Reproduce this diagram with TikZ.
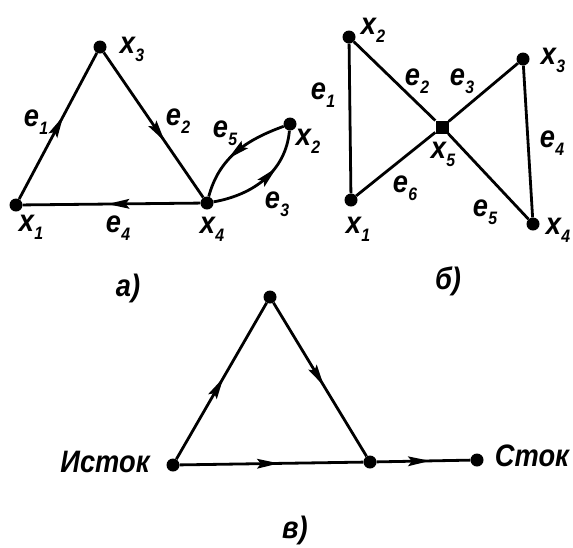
\documentclass[tikz,border=0pt]{standalone}
\usepackage{fontspec}
\setmainfont{Liberation Sans}[FakeStretch=0.88]
\usetikzlibrary{decorations.markings}
\newcommand\lb[2]{#1\kern0.3pt\raisebox{-0.5ex}{\fontsize{18}{18}\selectfont #2}}
\begin{document}
\begin{tikzpicture}[x=1pt,y=-1pt,
  edge/.style={line width=2.8pt},
  dot/.style={circle,fill,inner sep=0pt,minimum size=13pt},
  sq/.style={rectangle,fill,inner sep=0pt,minimum size=13pt},
  lab/.style={inner sep=0pt,font=\fontsize{31}{31}\selectfont\bfseries\itshape},
  midarrow/.style={postaction={decorate,decoration={markings,
      mark=at position #1 with {\fill (11pt,0pt) -- (-11pt,5pt) -- (-7pt,0pt) -- (-11pt,-5pt) -- cycle;}}}}
]
\useasboundingbox (0,0) rectangle (573,547);
% ---------- a)
\node[dot] (a1) at (16,205) {};
\node[dot] (a3) at (100,47) {};
\node[dot] (a4) at (207,203) {};
\node[dot] (a2) at (290,124) {};
\draw[edge,midarrow=0.5] (a1) -- (a3);
\draw[edge,midarrow=0.55] (a3) -- (a4);
\draw[edge,midarrow=0.46] (a4) -- (a1);
\draw[edge,midarrow=0.5] (a2) to[out=200,in=75] (a4);
\draw[edge,midarrow=0.55] (a4) to[out=10,in=-95] (a2);
\node[lab] (la3) at (132,49) {\lb{x}{3}};
\node[lab] (la1) at (31,227) {\lb{x}{1}};
\node[lab] (la4) at (212,229) {\lb{x}{4}};
\node[lab] (la2) at (308,141) {\lb{x}{2}};
\node[lab] (le1) at (36,122) {\lb{e}{1}};
\node[lab] (le2) at (178,121) {\lb{e}{2}};
\node[lab] (le5) at (225,133) {\lb{e}{5}};
\node[lab] (le3) at (277,204) {\lb{e}{3}};
\node[lab] (le4) at (118,228) {\lb{e}{4}};
\node[lab] (capa) at (128,288) {а)};
% ---------- b)
\node[dot] (b2) at (349,37) {};
\node[dot] (b1) at (351,200) {};
\node[sq] (b5) at (442,127) {};
\node[dot] (b3) at (523,59) {};
\node[dot] (b4) at (533,224) {};
\draw[edge] (b1) -- (b2);
\draw[edge] (b2) -- (b5);
\draw[edge] (b5) -- (b3);
\draw[edge] (b3) -- (b4);
\draw[edge] (b5) -- (b4);
\draw[edge] (b1) -- (b5);
\node[lab] (lb2) at (373,30) {\lb{x}{2}};
\node[lab] (lb1) at (358,229) {\lb{x}{1}};
\node[lab] (lb5) at (443,154) {\lb{x}{5}};
\node[lab] (lb3) at (553,60) {\lb{x}{3}};
\node[lab] (lb4) at (558,230) {\lb{x}{4}};
\node[lab] (lf1) at (323,95) {\lb{e}{1}};
\node[lab] (lf2) at (417,81) {\lb{e}{2}};
\node[lab] (lf3) at (462,81) {\lb{e}{3}};
\node[lab] (lf4) at (552,143) {\lb{e}{4}};
\node[lab] (lf6) at (405,188) {\lb{e}{6}};
\node[lab] (lf5) at (485,212) {\lb{e}{5}};
\node[lab] (capb) at (448,281) {б)};
% ---------- c)
\node[dot] (cs) at (173,465) {};
\node[dot] (ct) at (270,297) {};
\node[dot] (cm) at (370,462) {};
\node[dot] (ck) at (477,460) {};
\draw[edge,midarrow=0.46] (cs) -- (ct);
\draw[edge,midarrow=0.48] (ct) -- (cm);
\draw[edge,midarrow=0.48] (cs) -- (cm);
\draw[edge,midarrow=0.45] (cm) -- (ck);
\node[lab] (ls) at (105,462) {Исток};
\node[lab] (lk) at (532,456) {Сток};
\node[lab] (capc) at (295,530) {в)};
\end{tikzpicture}
\end{document}
